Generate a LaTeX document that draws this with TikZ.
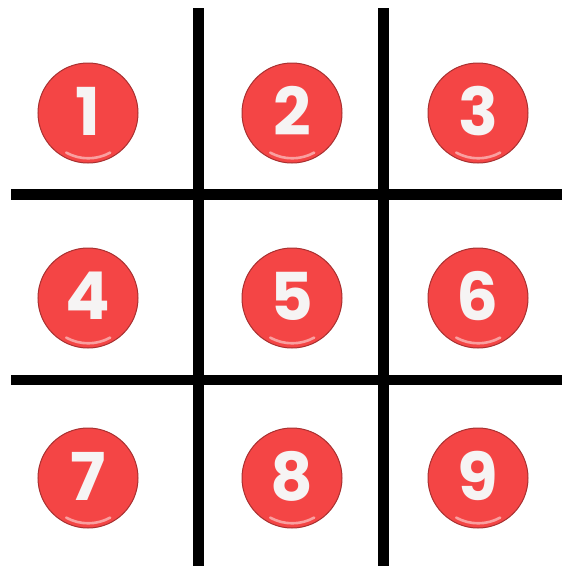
\documentclass[tikz,border=0pt]{standalone}
\usepackage{fontspec}
\usetikzlibrary{calc}
\newfontfamily\digitfont{Poppins}
\definecolor{ballred}{HTML}{F44545}
\definecolor{balledge}{HTML}{A83030}
\definecolor{ballshine}{HTML}{FBB0B0}
\definecolor{digitwhite}{HTML}{F6F4F4}
\begin{document}
\begin{tikzpicture}[x=1pt,y=-1pt,
  gridline/.style={line width=10.5pt,black},
  ball/.style={circle,fill=ballred,draw=balledge,line width=1pt,minimum size=100pt,inner sep=0pt},
  digit/.style={text=digitwhite,font=\digitfont\bfseries\fontsize{66}{66}\selectfont,inner sep=0pt,anchor=center}]
\useasboundingbox (0,0) rectangle (562,566);
% grid
\coordinate (v1t) at (198.5,8); \coordinate (v1b) at (198.5,566);
\coordinate (v2t) at (383.5,8); \coordinate (v2b) at (383.5,566);
\coordinate (h1l) at (11,194.5); \coordinate (h1r) at (562,194.5);
\coordinate (h2l) at (11,380); \coordinate (h2r) at (562,380);
\draw[gridline] (v1t) -- (v1b);
\draw[gridline] (v2t) -- (v2b);
\draw[gridline] (h1l) -- (h1r);
\draw[gridline] (h2l) -- (h2r);
% balls
\foreach \n/\x/\y in {1/88/113,2/292/113,3/478/113,4/88/298,5/292/298,6/478/298,7/88/478,8/292/478,9/478/478}{
  \node[ball] (b\n) at (\x,\y) {};
  \draw[ballshine,line width=2.6pt,line cap=round,opacity=0.85] ($(b\n.center)+(22.2,39.6)$) arc[start angle=61,end angle=119,radius=45.4];
  \node[digit] (t\n) at ($(b\n.center)+(0,-2)$) {\n};
}
\end{tikzpicture}
\end{document}
